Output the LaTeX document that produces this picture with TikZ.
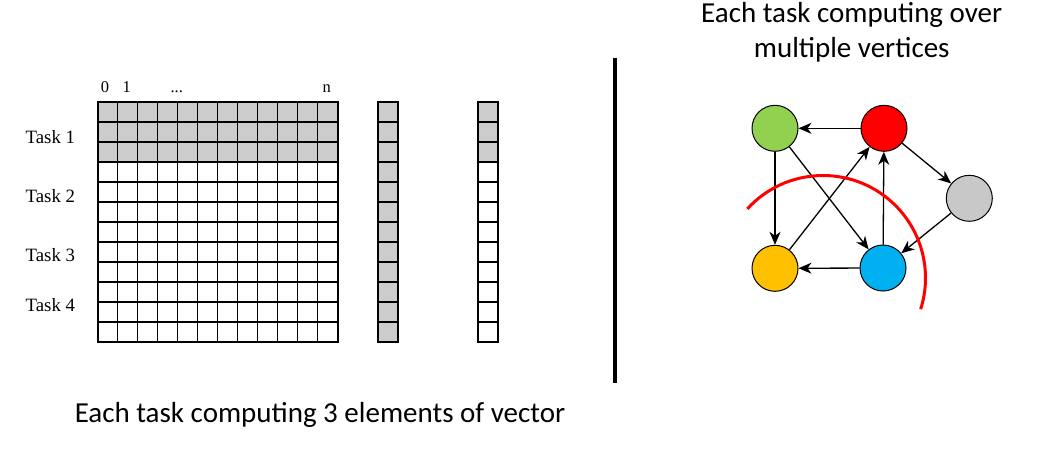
\documentclass[tikz,border=0pt]{standalone}
\usepackage{fontspec}
\setmainfont{Liberation Serif}
\newfontfamily\capfont{Carlito}
\usetikzlibrary{arrows.meta}
\definecolor{cellgray}{HTML}{CCCCCC}
\definecolor{vgreen}{HTML}{92D050}
\definecolor{vred}{HTML}{FF0000}
\definecolor{vgray}{HTML}{C8C8C8}
\definecolor{vyellow}{HTML}{FFC000}
\definecolor{vblue}{HTML}{00B0F0}
\tikzset{
  gridline/.style={line width=1.6pt, black},
  outline/.style={line width=2pt, black},
  vertex/.style={circle, draw=black, line width=1pt, minimum size=46pt, inner sep=0pt},
  edge/.style={line width=1.3pt, -{Stealth[length=13pt, width=11pt, inset=4pt]}},
  tasklabel/.style={anchor=base west, inner sep=0pt, font=\fontsize{18.8}{20}\selectfont},
  collabel/.style={anchor=base, inner sep=0pt, font=\fontsize{16.5}{18}\selectfont},
  caption/.style={anchor=base, inner sep=0pt, font=\capfont\fontsize{29}{35.6}\selectfont}
}
\begin{document}
\begin{tikzpicture}[x=1pt, y=-1pt]
\useasboundingbox (0,0) rectangle (1040,452);
\fill[white] (0,0) rectangle (1040,452);
% matrix
\fill[cellgray] (97.5,102) rectangle (337.5,162);
\foreach \i in {1,...,11} {
  \draw[gridline] (97.5+20*\i,102) -- (97.5+20*\i,342);
  \draw[gridline] (97.5,102+20*\i) -- (337.5,102+20*\i);
}
\draw[outline] (97.5,102) rectangle (337.5,342);
% vector 1
\fill[cellgray] (377.5,102) rectangle (397.5,342);
\foreach \i in {1,...,11} \draw[gridline] (377.5,102+20*\i) -- (397.5,102+20*\i);
\draw[outline] (377.5,102) rectangle (397.5,342);
% vector 2
\fill[cellgray] (477.5,102) rectangle (497.5,162);
\foreach \i in {1,...,11} \draw[gridline] (477.5,102+20*\i) -- (497.5,102+20*\i);
\draw[outline] (477.5,102) rectangle (497.5,342);
% column labels
\node[collabel] (c0) at (105,92.5) {0};
\node[collabel] (c1) at (126.7,92.5) {1};
\node[collabel] (cd) at (176.7,92.5) {...};
\node[collabel] (cn) at (326.7,92.5) {n};
% task labels
\node[tasklabel] (t1) at (25.5,143.3) {Task 1};
\node[tasklabel] (t2) at (25.5,202.3) {Task 2};
\node[tasklabel] (t3) at (25.5,261.7) {Task 3};
\node[tasklabel] (t4) at (25.5,311.7) {Task 4};
% divider
\draw[line width=4pt] (614.7,58.3) -- (614.7,383.3);
% captions
\node[caption] (capl) at (320,422.5) {Each task computing 3 elements of vector};
\node[caption] (capr1) at (851.7,23) {Each task computing over};
\node[caption] (capr2) at (851.7,58) {multiple vertices};
% graph
\node[vertex, fill=vgreen] (g) at (775,128.3) {};
\node[vertex, fill=vred] (r) at (884,128.3) {};
\node[vertex, fill=vgray] (s) at (969.3,198.3) {};
\node[vertex, fill=vyellow] (y) at (775,268.3) {};
\node[vertex, fill=vblue] (b) at (883,268) {};
\draw[edge] (r) -- (g);
\draw[edge] (g) -- (y);
\draw[edge] (g) -- (b);
\draw[edge] (y) -- (r);
\draw[edge] (b) -- (r);
\draw[edge] (r) -- (s);
\draw[edge] (s) -- (b);
\draw[edge] (b) -- (y);
% red arc
\coordinate (arcstart) at ([shift={(-137.6:102.5)}]823,278);
\draw[vred, line width=3pt] (arcstart) arc[start angle=-137.6, end angle=17.7, radius=102.5];
\end{tikzpicture}
\end{document}
